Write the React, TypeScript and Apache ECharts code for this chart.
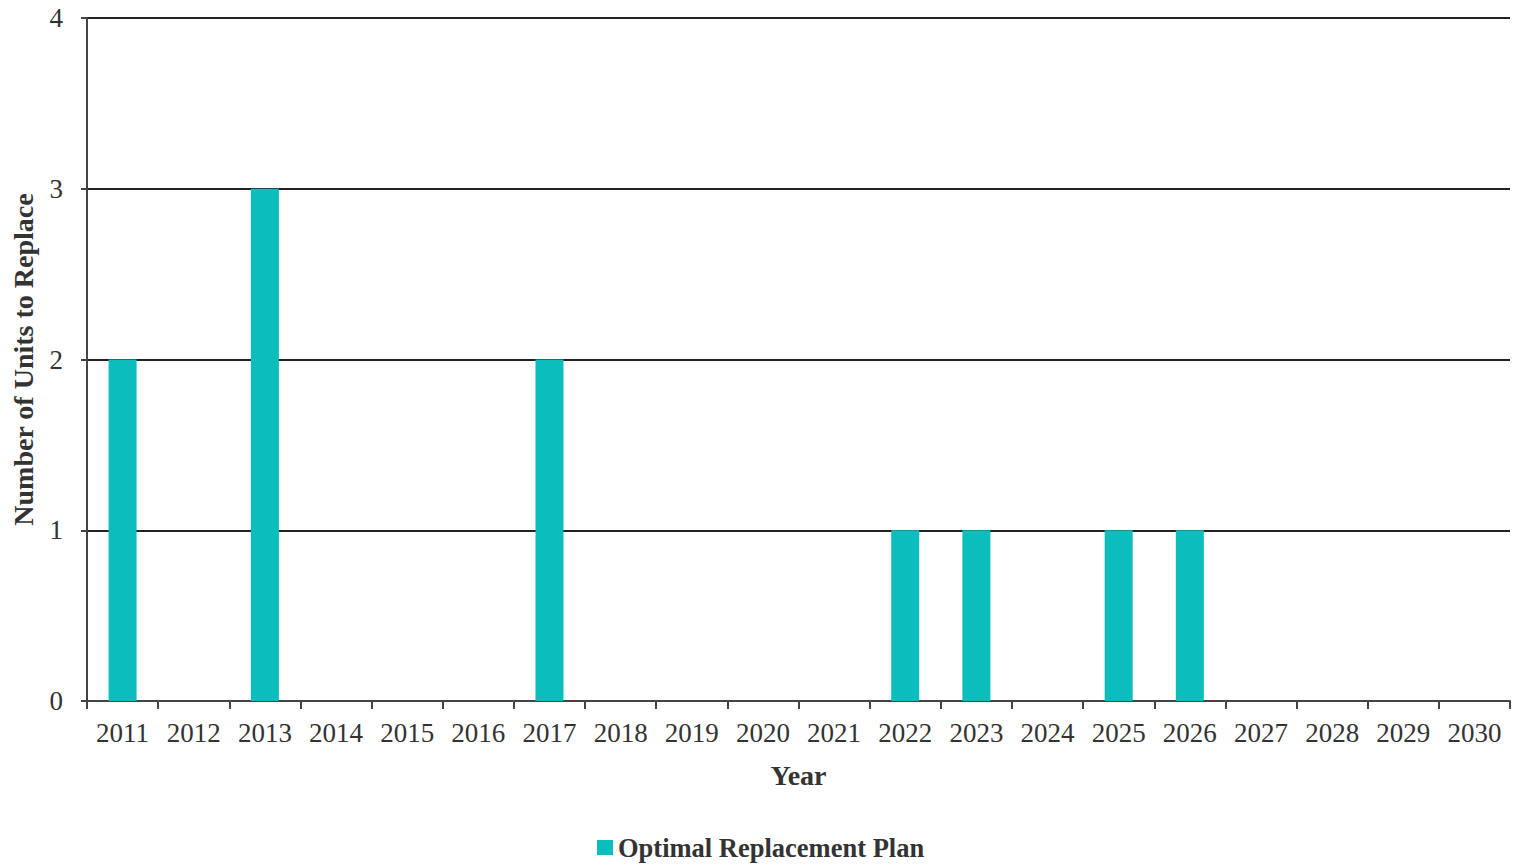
import React, { useEffect, useRef } from "react";
import * as echarts from "echarts";

// Years on the horizontal axis
const years = [
  "2011", "2012", "2013", "2014", "2015", "2016", "2017", "2018", "2019", "2020",
  "2021", "2022", "2023", "2024", "2025", "2026", "2027", "2028", "2029", "2030",
];

// Number of units replaced each year under the optimal plan
const unitsToReplace = [2, 0, 3, 0, 0, 0, 2, 0, 0, 0, 0, 1, 1, 0, 1, 1, 0, 0, 0, 0];

const seriesName = "Optimal Replacement Plan";
const barColor = "#0cbdbe";
const serif = "'Liberation Serif', 'DejaVu Serif', serif";

export default function App() {
  const ref = useRef<HTMLDivElement>(null);

  useEffect(() => {
    if (!ref.current) return;
    const chart = echarts.init(ref.current, undefined, { renderer: "svg" });
    chart.setOption({
      animation: false,
      backgroundColor: "#ffffff",
      grid: { left: 87, right: 5, top: 18, bottom: 165, containLabel: false },
      legend: {
        top: 834,
        left: 597,
        padding: 0,
        data: [seriesName],
        icon: "rect",
        itemWidth: 16,
        itemHeight: 15,
        itemGap: 4,
        textStyle: { fontFamily: serif, fontSize: 26.5, color: "#333", fontWeight: "bold" },
      },
      xAxis: {
        type: "category",
        data: years,
        name: "Year",
        nameLocation: "middle",
        nameGap: 60,
        nameTextStyle: { fontFamily: serif, fontSize: 28, fontWeight: "bold", color: "#333" },
        axisLine: { show: true, lineStyle: { color: "#444", width: 2 } },
        axisTick: { show: true, alignWithLabel: false, length: 8, lineStyle: { color: "#444", width: 2 } },
        axisLabel: { fontFamily: serif, fontSize: 27, color: "#333", margin: 18, interval: 0 },
      },
      yAxis: {
        type: "value",
        min: 0,
        max: 4,
        interval: 1,
        name: "Number of Units to Replace",
        nameLocation: "middle",
        nameGap: 50,
        nameTextStyle: { fontFamily: serif, fontSize: 28, fontWeight: "bold", color: "#333" },
        axisLine: { show: true, lineStyle: { color: "#444", width: 2 } },
        axisTick: { show: true, length: 6, lineStyle: { color: "#444", width: 2 } },
        axisLabel: { fontFamily: serif, fontSize: 27, color: "#333", margin: 24 },
        splitLine: { show: true, lineStyle: { color: "#222", width: 2 } },
      },
      series: [
        {
          name: seriesName,
          type: "bar",
          data: unitsToReplace,
          barWidth: 28,
          itemStyle: { color: barColor },
        },
      ],
    });
    return () => chart.dispose();
  }, []);

  return <div ref={ref} style={{ width: 1515, height: 866, position: "absolute", left: 0, top: 0 }} />;
}
